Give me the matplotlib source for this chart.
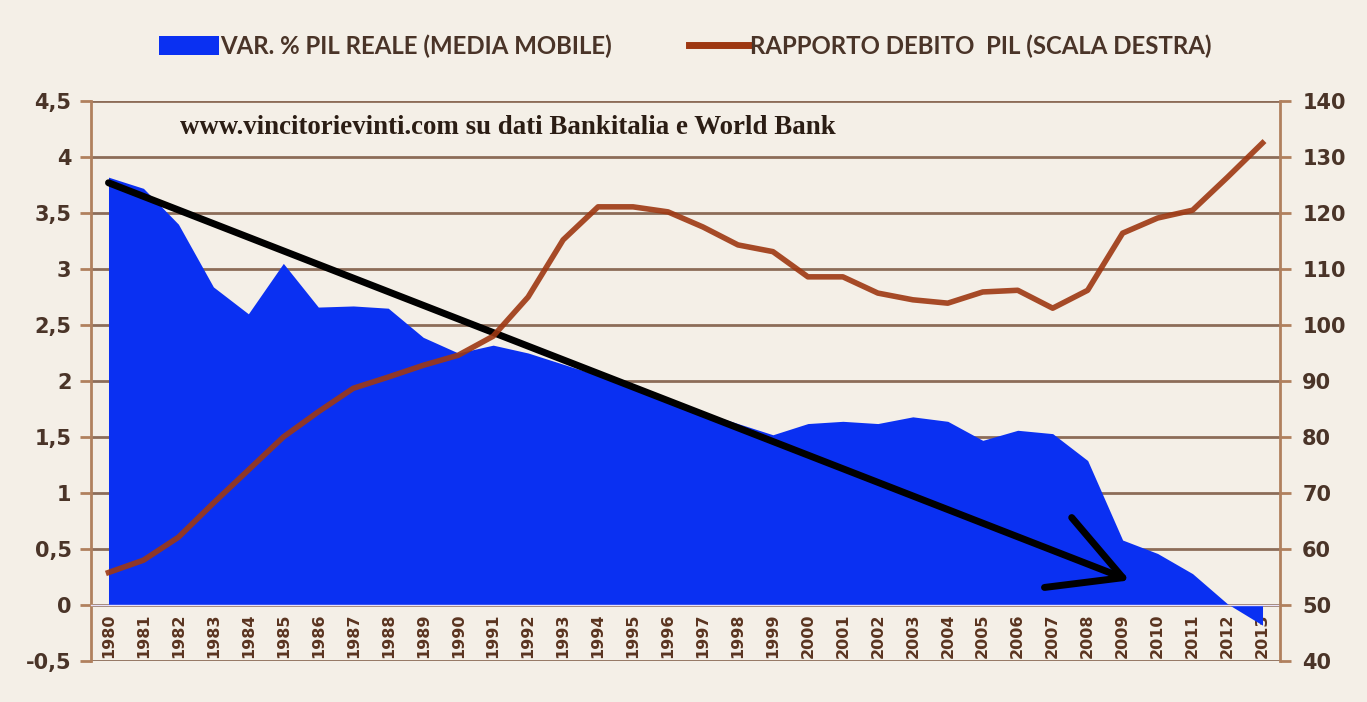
import matplotlib
matplotlib.use("Agg")
import matplotlib.pyplot as plt
from matplotlib.patches import Patch
from matplotlib.lines import Line2D
import numpy as np

# ---------------- data ----------------
years = [str(y) for y in range(1980, 2014)]
gdp_growth_ma = [3.82, 3.72, 3.40, 2.84, 2.60, 3.05, 2.66, 2.67, 2.65, 2.39,
                 2.25, 2.32, 2.25, 2.15, 2.05, 1.95, 1.85, 1.72, 1.62, 1.52,
                 1.62, 1.64, 1.62, 1.68, 1.64, 1.47, 1.56, 1.53, 1.29, 0.58,
                 0.46, 0.28, 0.01, -0.18]
debt_gdp = [55.8, 58.0, 62.1, 68.2, 74.1, 80.0, 84.5, 88.7, 90.7, 92.8,
            94.6, 98.0, 105.0, 115.2, 121.1, 121.1, 120.2, 117.5, 114.3, 113.1,
            108.6, 108.6, 105.7, 104.5, 103.9, 105.9, 106.2, 103.0, 106.2, 116.4,
            119.1, 120.5, 126.4, 132.5]
left_ticks = [-0.5, 0, 0.5, 1, 1.5, 2, 2.5, 3, 3.5, 4, 4.5]
left_tick_labels = ["-0,5", "0", "0,5", "1", "1,5", "2", "2,5", "3", "3,5", "4", "4,5"]
right_ticks = [40, 50, 60, 70, 80, 90, 100, 110, 120, 130, 140]
series_labels = ["VAR. % PIL REALE (MEDIA MOBILE)", "RAPPORTO DEBITO  PIL (SCALA DESTRA)"]
title_text = "www.vincitorievinti.com su dati Bankitalia e World Bank"

# ---------------- style ----------------
BG = "#f4efe7"
BLUE = "#0a30f2"
ORANGE = "#9e3812"
GRID = "#8c6c58"
SPINE = "#b0805e"
TXT = "#4a3428"

fig = plt.figure(figsize=(13.67, 7.02), dpi=100, facecolor=BG)
ax = fig.add_axes([91 / 1367, 1 - 661 / 702, (1280 - 91) / 1367, (661 - 101) / 702])
ax.set_facecolor(BG)

x = np.arange(len(years))
ax.fill_between(x, gdp_growth_ma, 0, color=BLUE, linewidth=0, zorder=2)

ax.set_xlim(-0.5, len(years) - 0.5)
ax.set_ylim(-0.5, 4.5)
ax.set_yticks(left_ticks)
ax.set_yticklabels(left_tick_labels)
ax.yaxis.grid(True, color=GRID, linewidth=2, zorder=1)
ax.set_axisbelow(True)
ax.set_xticks(x)
ax.set_xticklabels(years)

ax.spines["bottom"].set_position(("data", 0))
ax.spines["bottom"].set_color("#e8e0f8")
ax.spines["bottom"].set_linewidth(1)
ax.spines["top"].set_visible(False)
ax.spines["left"].set_color(SPINE)
ax.spines["left"].set_linewidth(2)
ax.spines["right"].set_visible(False)

ax2 = ax.twinx()
ax2.set_ylim(40, 140)
ax2.set_yticks(right_ticks)
ax2.plot(x, debt_gdp, color=ORANGE, linewidth=4, alpha=0.9, zorder=4,
         solid_joinstyle="round")
ax2.tick_params(axis="y", length=8, width=2, color=SPINE, pad=8,
                labelsize=15, labelcolor=TXT)
for s in ["top", "left", "bottom"]:
    ax2.spines[s].set_visible(False)
ax2.spines["right"].set_color(SPINE)
ax2.spines["right"].set_linewidth(2)

ax.tick_params(axis="x", length=0, pad=6, labelrotation=90, labelsize=11.5,
               labelcolor="#5a3420")
ax.tick_params(axis="y", length=8, width=2, color=SPINE, pad=6,
               labelsize=15, labelcolor=TXT)
for lab in ax.get_xticklabels() + ax.get_yticklabels() + ax2.get_yticklabels():
    lab.set_fontweight("bold")

# hand-drawn trend arrow (annotation)
arrow_start = (0, 3.77)
arrow_end = (29.2, 0.22)
ax.annotate("", xy=arrow_end, xytext=arrow_start, xycoords="data",
            arrowprops=dict(arrowstyle="->,head_length=5,head_width=2.7",
                            color="black", lw=5, mutation_scale=10,
                            shrinkA=0, shrinkB=0, capstyle="round"),
            zorder=6)

fig.text(180 / 1367, 1 - 128 / 702, title_text, family="Liberation Serif",
         fontweight="bold", fontsize=19.4, color="#2b1d14", va="center", ha="left")

handles = [Patch(facecolor=BLUE, edgecolor="none"),
           Line2D([0], [0], color=ORANGE, lw=5)]
leg = fig.legend(handles, series_labels, ncol=2, loc="center",
                 bbox_to_anchor=(685.5 / 1367, 1 - 46 / 702), frameon=False,
                 prop=dict(family="Lato", weight="bold", size=17.3),
                 handlelength=2.5, handletextpad=0.05, columnspacing=3.2,
                 handleheight=0.9)
for t in leg.get_texts():
    t.set_color(TXT)

fig.savefig("out.png", dpi=100, facecolor=BG)
